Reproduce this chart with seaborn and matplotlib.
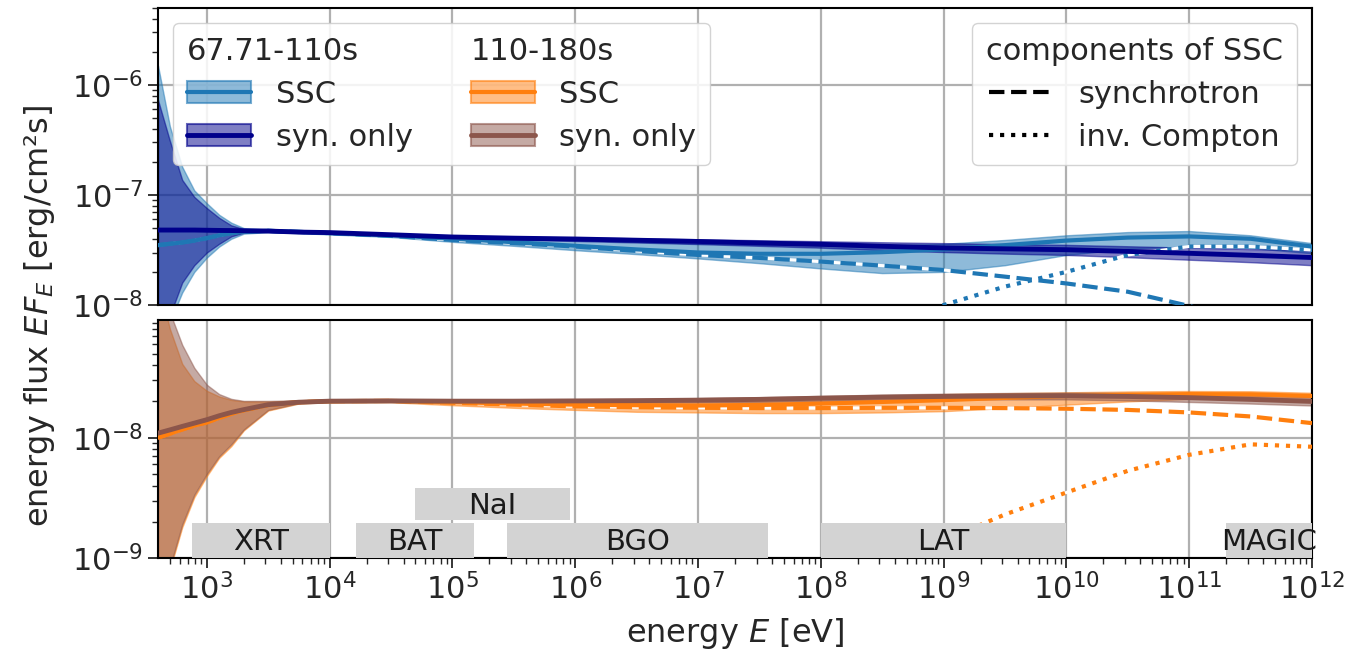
import numpy as np
import matplotlib
matplotlib.use("Agg")
import matplotlib.pyplot as plt
from matplotlib.patches import Patch
from matplotlib.lines import Line2D
from matplotlib.ticker import NullFormatter
from matplotlib.colors import to_rgba
import seaborn as sns

# ---------------------------------------------------------------- data
energy = [4.0e2, 5.0e2, 6.3e2, 7.9e2, 1.0e3, 1.26e3, 1.58e3, 2.0e3, 3.16e3,
          5.6e3, 1.0e4, 3.16e4, 1.0e5, 3.16e5, 1.0e6, 3.16e6, 1.0e7, 3.16e7,
          1.0e8, 3.16e8, 1.0e9, 3.16e9, 1.0e10, 3.16e10, 1.0e11, 3.16e11, 1.0e12]

# 67.71-110 s : SSC fit
ssc1_mid = [3.5e-8, 3.6e-8, 3.7e-8, 3.85e-8, 4.05e-8, 4.3e-8, 4.5e-8, 4.65e-8, 4.72e-8,
            4.62e-8, 4.5e-8, 4.3e-8, 4.0e-8, 3.72e-8, 3.45e-8, 3.2e-8, 3.0e-8, 2.92e-8,
            2.92e-8, 3.02e-8, 3.2e-8, 3.5e-8, 3.85e-8, 4.1e-8, 4.2e-8, 4.0e-8, 3.4e-8]
ssc1_lo = [3e-9, 7e-9, 1.3e-8, 2.0e-8, 2.7e-8, 3.4e-8, 4.0e-8, 4.45e-8, 4.6e-8,
           4.5e-8, 4.38e-8, 4.15e-8, 3.75e-8, 3.45e-8, 3.15e-8, 2.9e-8, 2.65e-8, 2.4e-8,
           2.15e-8, 1.95e-8, 2.0e-8, 2.3e-8, 2.85e-8, 3.25e-8, 3.4e-8, 3.3e-8, 2.95e-8]
ssc1_hi = [1.5e-6, 4.2e-7, 1.8e-7, 1.1e-7, 8.4e-8, 6.6e-8, 5.6e-8, 5.0e-8, 4.85e-8,
           4.72e-8, 4.6e-8, 4.4e-8, 4.15e-8, 4.0e-8, 3.9e-8, 3.75e-8, 3.62e-8, 3.55e-8,
           3.5e-8, 3.5e-8, 3.6e-8, 3.9e-8, 4.3e-8, 4.6e-8, 4.7e-8, 4.3e-8, 3.65e-8]
# 67.71-110 s : synchrotron-only fit
syn1_mid = [4.8e-8, 4.8e-8, 4.8e-8, 4.8e-8, 4.78e-8, 4.76e-8, 4.75e-8, 4.73e-8, 4.7e-8,
            4.6e-8, 4.55e-8, 4.35e-8, 4.15e-8, 4.05e-8, 3.98e-8, 3.88e-8, 3.78e-8, 3.66e-8,
            3.56e-8, 3.42e-8, 3.3e-8, 3.24e-8, 3.18e-8, 3.07e-8, 2.95e-8, 2.83e-8, 2.7e-8]
syn1_lo = [3e-9, 8e-9, 1.6e-8, 2.3e-8, 3.0e-8, 3.6e-8, 4.2e-8, 4.55e-8, 4.62e-8,
           4.52e-8, 4.45e-8, 4.25e-8, 4.05e-8, 3.92e-8, 3.82e-8, 3.7e-8, 3.58e-8, 3.45e-8,
           3.32e-8, 3.15e-8, 3.03e-8, 2.93e-8, 2.85e-8, 2.72e-8, 2.58e-8, 2.45e-8, 2.3e-8]
syn1_hi = [7.3e-7, 3.1e-7, 1.37e-7, 9.6e-8, 7.6e-8, 6.2e-8, 5.3e-8, 4.9e-8, 4.78e-8,
           4.68e-8, 4.63e-8, 4.45e-8, 4.25e-8, 4.17e-8, 4.12e-8, 4.04e-8, 3.96e-8, 3.88e-8,
           3.8e-8, 3.72e-8, 3.65e-8, 3.58e-8, 3.52e-8, 3.42e-8, 3.32e-8, 3.22e-8, 3.15e-8]
# 67.71-110 s : SSC components
sync1 = [3.5e-8, 3.6e-8, 3.7e-8, 3.85e-8, 4.05e-8, 4.3e-8, 4.5e-8, 4.65e-8, 4.72e-8,
         4.62e-8, 4.5e-8, 4.25e-8, 3.9e-8, 3.65e-8, 3.4e-8, 3.1e-8, 2.85e-8, 2.68e-8,
         2.48e-8, 2.28e-8, 2.08e-8, 1.81e-8, 1.57e-8, 1.32e-8, 9.8e-9, 7.0e-9, 4.5e-9]
ic_energy = [3.16e7, 1.0e8, 3.16e8, 1.0e9, 3.16e9, 1.0e10, 3.16e10, 1.0e11, 3.16e11, 1.0e12]
ic1 = [2.0e-9, 3.5e-9, 6.3e-9, 1.0e-8, 1.47e-8, 2.0e-8, 2.85e-8, 3.4e-8, 3.4e-8, 3.16e-8]

# 110-180 s : SSC fit
ssc2_mid = [1.0e-8, 1.08e-8, 1.17e-8, 1.26e-8, 1.34e-8, 1.46e-8, 1.58e-8, 1.69e-8, 1.87e-8,
            1.97e-8, 2.01e-8, 2.02e-8, 1.97e-8, 1.92e-8, 1.88e-8, 1.86e-8, 1.85e-8, 1.87e-8,
            1.92e-8, 1.98e-8, 2.05e-8, 2.14e-8, 2.22e-8, 2.27e-8, 2.3e-8, 2.29e-8, 2.22e-8]
ssc2_lo = [4e-10, 8e-10, 1.8e-9, 3.2e-9, 4.8e-9, 6.8e-9, 8.5e-9, 1.15e-8, 1.68e-8,
           1.92e-8, 1.97e-8, 1.97e-8, 1.86e-8, 1.77e-8, 1.7e-8, 1.64e-8, 1.62e-8, 1.6e-8,
           1.6e-8, 1.62e-8, 1.66e-8, 1.76e-8, 1.88e-8, 2.0e-8, 2.1e-8, 2.1e-8, 2.05e-8]
ssc2_hi = [2e-7, 8e-8, 4.1e-8, 2.95e-8, 2.45e-8, 2.2e-8, 2.06e-8, 2.0e-8, 2.0e-8,
           2.03e-8, 2.05e-8, 2.07e-8, 2.06e-8, 2.06e-8, 2.05e-8, 2.05e-8, 2.06e-8, 2.1e-8,
           2.15e-8, 2.22e-8, 2.3e-8, 2.34e-8, 2.38e-8, 2.42e-8, 2.44e-8, 2.43e-8, 2.36e-8]
# 110-180 s : synchrotron-only fit
syn2_mid = [1.09e-8, 1.16e-8, 1.24e-8, 1.32e-8, 1.41e-8, 1.52e-8, 1.62e-8, 1.71e-8, 1.88e-8,
            1.97e-8, 2.01e-8, 2.02e-8, 2.01e-8, 2.01e-8, 2.02e-8, 2.03e-8, 2.05e-8, 2.08e-8,
            2.13e-8, 2.17e-8, 2.2e-8, 2.22e-8, 2.23e-8, 2.2e-8, 2.15e-8, 2.08e-8, 2.0e-8]
syn2_lo = [4.2e-10, 8.4e-10, 1.9e-9, 3.35e-9, 5.0e-9, 7.0e-9, 8.8e-9, 1.17e-8, 1.7e-8,
           1.93e-8, 1.97e-8, 1.98e-8, 1.96e-8, 1.95e-8, 1.95e-8, 1.95e-8, 1.96e-8, 1.98e-8,
           2.02e-8, 2.05e-8, 2.07e-8, 2.08e-8, 2.08e-8, 2.04e-8, 1.98e-8, 1.92e-8, 1.85e-8]
syn2_hi = [3e-7, 1.1e-7, 5.9e-8, 3.8e-8, 2.75e-8, 2.3e-8, 2.1e-8, 2.02e-8, 2.02e-8,
           2.04e-8, 2.05e-8, 2.06e-8, 2.06e-8, 2.07e-8, 2.08e-8, 2.1e-8, 2.13e-8, 2.17e-8,
           2.22e-8, 2.28e-8, 2.32e-8, 2.35e-8, 2.37e-8, 2.35e-8, 2.3e-8, 2.25e-8, 2.2e-8]
# 110-180 s : SSC components
sync2 = [1.0e-8, 1.08e-8, 1.17e-8, 1.26e-8, 1.34e-8, 1.46e-8, 1.58e-8, 1.69e-8, 1.87e-8,
         1.97e-8, 2.01e-8, 2.02e-8, 1.95e-8, 1.88e-8, 1.82e-8, 1.79e-8, 1.77e-8, 1.76e-8,
         1.76e-8, 1.77e-8, 1.77e-8, 1.76e-8, 1.74e-8, 1.7e-8, 1.62e-8, 1.5e-8, 1.32e-8]
ic2 = [2.5e-10, 4.5e-10, 8e-10, 1.4e-9, 2.3e-9, 3.5e-9, 5.3e-9, 7.2e-9, 8.8e-9, 8.4e-9]

# instrument coverage (label, E_min, E_max, row)
instruments = ["XRT", "BAT", "NaI", "BGO", "LAT", "MAGIC"]
inst_emin = [7.5e2, 1.65e4, 5.0e4, 2.8e5, 1.0e8, 2.0e11]
inst_emax = [1.0e4, 1.5e5, 9.0e5, 3.7e7, 1.0e10, 1.0e12]
inst_row = [0, 0, 1, 0, 0, 0]
row_flux = [(1.0e-9, 1.95e-9), (2.05e-9, 3.85e-9)]

# tick positions (decades inside the plotted ranges)
x_decades = [1e3, 1e4, 1e5, 1e6, 1e7, 1e8, 1e9, 1e10, 1e11, 1e12]
y_decades_top = [1e-8, 1e-7, 1e-6]
y_decades_bottom = [1e-9, 1e-8]

# ---------------------------------------------------------------- style
sns.set_style("ticks")
plt.rcParams["font.family"] = ["DejaVu Sans"]
plt.rcParams["mathtext.fontset"] = "dejavusans"
FS = 22

c_ssc1, c_syn1 = "#1f77b4", "#00008b"
c_ssc2, c_syn2 = "#ff7f0e", "#8c564b"

fig, (ax_t, ax_b) = plt.subplots(
    2, 1, figsize=(13.47, 6.59), dpi=100, sharex=True,
    gridspec_kw=dict(height_ratios=[297, 238], hspace=0.056))
fig.subplots_adjust(left=158 / 1347, right=1312 / 1347,
                    top=1 - 8 / 659, bottom=1 - 558 / 659)


def draw_panel(ax, mid_s, lo_s, hi_s, mid_y, lo_y, hi_y, sync, ic, c_s, c_y):
    ax.fill_between(energy, lo_s, hi_s, color=c_s, alpha=0.5, lw=1, zorder=1)
    ax.fill_between(energy, lo_y, hi_y, color=c_y, alpha=0.5, lw=1, zorder=1.5)
    # component curves with a white underlay
    sns.lineplot(x=energy, y=sync, ax=ax, color="white", lw=2.2, zorder=2.5)
    sns.lineplot(x=energy, y=sync, ax=ax, color=c_s, lw=3, linestyle="--", zorder=3)
    sns.lineplot(x=ic_energy, y=ic, ax=ax, color="white", lw=2.2, zorder=2.5)
    sns.lineplot(x=ic_energy, y=ic, ax=ax, color=c_s, lw=3, linestyle=":", zorder=3)
    sns.lineplot(x=energy, y=mid_s, ax=ax, color=c_s, lw=3, zorder=4)
    sns.lineplot(x=energy, y=mid_y, ax=ax, color=c_y, lw=3.5, zorder=4.5)


draw_panel(ax_t, ssc1_mid, ssc1_lo, ssc1_hi, syn1_mid, syn1_lo, syn1_hi,
           sync1, ic1, c_ssc1, c_syn1)
draw_panel(ax_b, ssc2_mid, ssc2_lo, ssc2_hi, syn2_mid, syn2_lo, syn2_hi,
           sync2, ic2, c_ssc2, c_syn2)

# instrument boxes
for name, e0, e1, r in zip(instruments, inst_emin, inst_emax, inst_row):
    f0, f1 = row_flux[r]
    ax_b.fill_between([e0, e1], f0, f1, color="#d3d3d3", lw=0, zorder=6)
    ax_b.text(np.sqrt(e0 * e1), np.sqrt(f0 * f1) * 0.97, name, ha="center",
              va="center", fontsize=21, color="#1a1a1a", zorder=7)


def minor_between(decades, lo, hi):
    out = []
    for d in [decades[0] / 10] + list(decades):
        for m in range(2, 10):
            v = d * m
            if lo < v < hi:
                out.append(v)
    return out


# axes
for ax in (ax_t, ax_b):
    ax.set_xscale("log")
    ax.set_yscale("log")
    ax.grid(True, which="major", color="#b0b0b0", lw=1.6)
    ax.set_axisbelow(True)
    for sp in ax.spines.values():
        sp.set_visible(True)
        sp.set_linewidth(1.5)
        sp.set_color("black")
    ax.set_ylabel("")
    ax.set_xlabel("")

ax_t.set_ylim(1e-8, 5e-6)
ax_b.set_ylim(1e-9, 9.5e-8)
for ax, ydec, (ylo, yhi) in ((ax_t, y_decades_top, (1e-8, 5e-6)),
                             (ax_b, y_decades_bottom, (1e-9, 9.5e-8))):
    ax.set_xticks(x_decades)
    ax.set_xticks(minor_between(x_decades, 4e2, 1e12), minor=True)
    ax.set_yticks(ydec)
    ax.set_yticks(minor_between(ydec, ylo, yhi), minor=True)
    ax.xaxis.set_minor_formatter(NullFormatter())
    ax.yaxis.set_minor_formatter(NullFormatter())
    ax.set_xlim(4e2, 1e12)
    ax.set_ylim(ylo, yhi)
    ax.tick_params(axis="both", which="major", labelsize=FS, length=7, width=1.3,
                   direction="out")
    ax.tick_params(axis="both", which="minor", length=4, width=1.0, direction="out")

ax_t.tick_params(axis="x", which="both", length=0, labelbottom=False)

ax_b.set_xlabel("energy $E$ [eV]", fontsize=FS + 1, labelpad=8)
fig.text(40 / 1347, 1 - 316 / 659, "energy flux $EF_E$ [erg/cm²s]", rotation=90,
         ha="center", va="center", fontsize=FS + 1)


# legends
def band_handle(c, lw):
    return (Patch(facecolor=to_rgba(c, 0.5), edgecolor=to_rgba(c, 0.6), lw=1.5),
            Line2D([], [], color=c, lw=lw))


blank = Line2D([], [], alpha=0)
handles = [blank, band_handle(c_ssc1, 3), band_handle(c_syn1, 3.5),
           blank, band_handle(c_ssc2, 3), band_handle(c_syn2, 3.5)]
labels = ["67.71-110s", "SSC", "syn. only", "110-180s", "SSC", "syn. only"]
leg1 = ax_t.legend(handles, labels, ncol=2, loc="upper left", fontsize=FS,
                   handlelength=2.1, handleheight=0.75, handletextpad=0.8,
                   labelspacing=0.45, columnspacing=1.9, borderpad=0.45,
                   framealpha=0.85)
for col in leg1._legend_handle_box.get_children():
    row = col.get_children()[0]
    row.sep = 0
    row.get_children()[0].set_width(0)
ax_t.add_artist(leg1)

comp_handles = [Line2D([], [], color="black", lw=3, linestyle="--"),
                Line2D([], [], color="black", lw=3, linestyle=":")]
leg2 = ax_t.legend(comp_handles, ["synchrotron", "inv. Compton"], loc="upper right",
                   title="components of SSC", fontsize=FS, title_fontsize=FS,
                   handlelength=2.1, handletextpad=0.8, labelspacing=0.45,
                   borderpad=0.45, framealpha=0.85)

fig.savefig("out.png", dpi=100)
